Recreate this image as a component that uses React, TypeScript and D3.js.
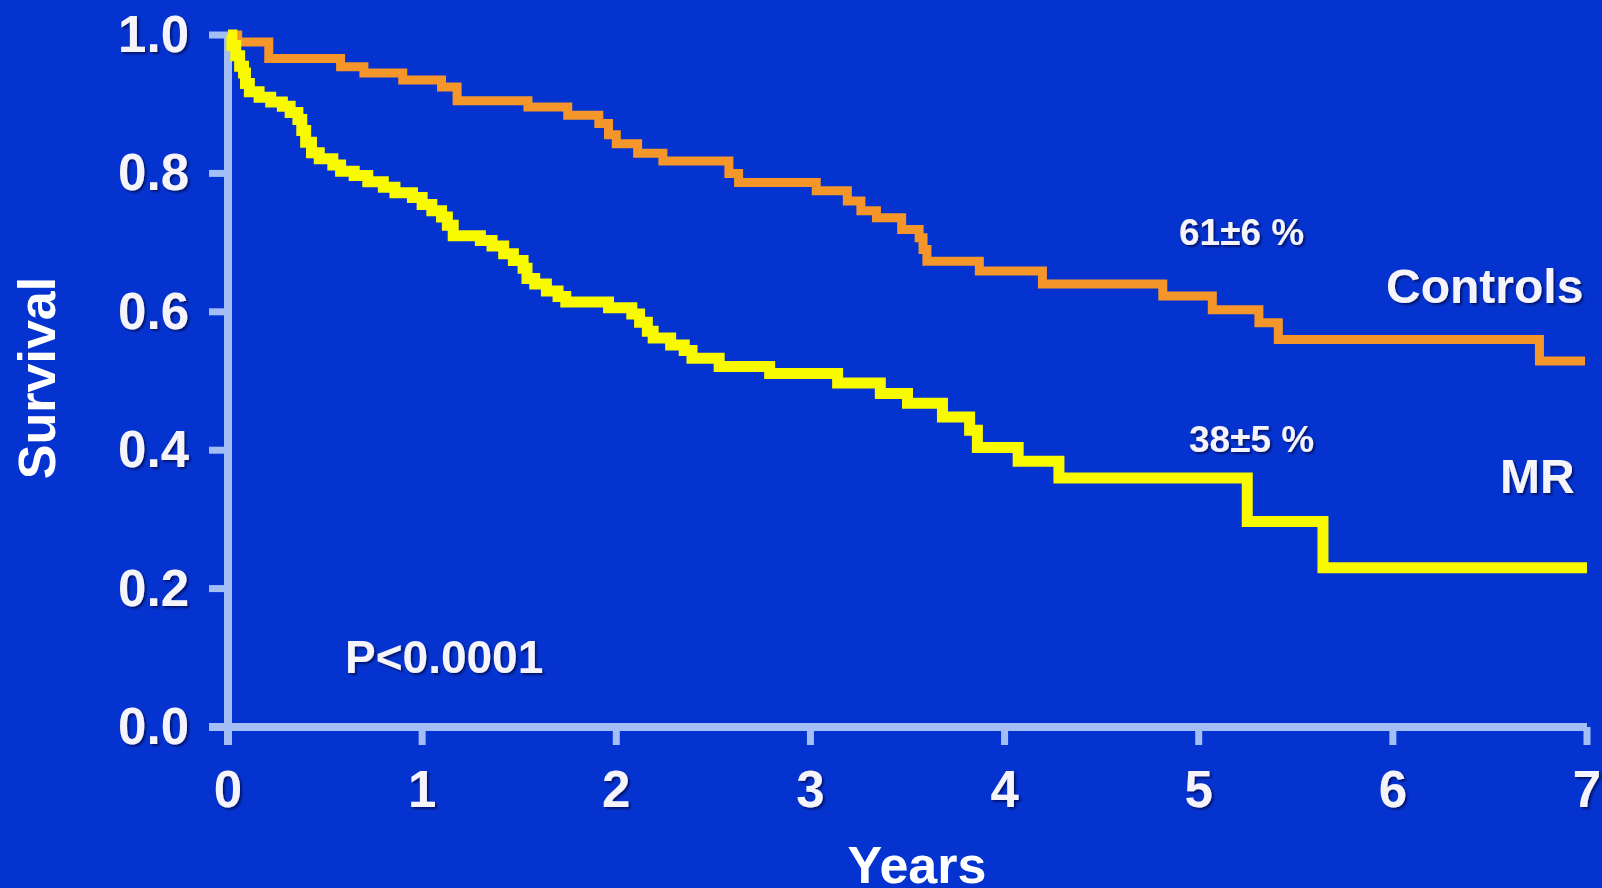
import React, { useEffect, useRef } from "react";
import * as d3 from "d3";

// axis ticks
const yearTicks = [0, 1, 2, 3, 4, 5, 6, 7];
const survivalTicks = [0, 0.2, 0.4, 0.6, 0.8, 1.0];

// Kaplan-Meier steps (time in years, survival)
const controlsTime = [
  0, 0.05, 0.21, 0.58, 0.7, 0.9, 1.1, 1.18, 1.545, 1.75, 1.91, 1.96, 2.0, 2.11,
  2.24, 2.58, 2.63, 3.03, 3.19, 3.26, 3.34, 3.47, 3.56, 3.58, 3.6, 3.87, 4.195,
  4.815, 5.07, 5.31, 5.41, 6.755, 6.99
];
const controlsSurv = [
  1.0, 0.99, 0.966, 0.954, 0.945, 0.935, 0.925, 0.905, 0.896, 0.884, 0.872,
  0.856, 0.843, 0.829, 0.818, 0.8, 0.787, 0.775, 0.76, 0.746, 0.736, 0.719,
  0.707, 0.69, 0.673, 0.659, 0.64, 0.623, 0.603, 0.584, 0.56, 0.529, 0.529
];

const mrTime = [
  0, 0.02, 0.04, 0.06, 0.08, 0.09, 0.11, 0.16, 0.22, 0.28, 0.32, 0.36, 0.38,
  0.4, 0.43, 0.47, 0.54, 0.58, 0.65, 0.72, 0.8, 0.86, 0.95, 1.0, 1.05, 1.1,
  1.13, 1.16, 1.3, 1.36, 1.42, 1.47, 1.52, 1.54, 1.58, 1.64, 1.7, 1.74, 1.96,
  2.08, 2.12, 2.16, 2.19, 2.28, 2.35, 2.39, 2.53, 2.79, 3.14, 3.36, 3.5, 3.68,
  3.82, 3.86, 4.07, 4.28, 5.25, 5.64, 7.0
];
const mrSurv = [
  1.0, 0.985, 0.97, 0.955, 0.945, 0.93, 0.918, 0.91, 0.903, 0.897, 0.888,
  0.878, 0.862, 0.845, 0.83, 0.821, 0.812, 0.803, 0.797, 0.788, 0.78, 0.772,
  0.765, 0.755, 0.746, 0.737, 0.725, 0.71, 0.703, 0.695, 0.684, 0.674, 0.663,
  0.648, 0.64, 0.63, 0.622, 0.614, 0.606, 0.597, 0.585, 0.572, 0.562, 0.552,
  0.544, 0.533, 0.521, 0.511, 0.497, 0.482, 0.468, 0.448, 0.429, 0.404, 0.384,
  0.36, 0.297, 0.23, 0.23
];

const W = 1602;
const H = 888;
const BG = "#0533cf";
const AXIS = "#a3bef5";
const ORANGE = "#f5962a";
const YELLOW = "#f9f900";
const FONT = "'Liberation Sans', Arial, sans-serif";

function drawChart(svgEl: SVGSVGElement) {
  const svg = d3.select(svgEl);
  svg.selectAll("*").remove();

  const x = d3.scaleLinear().domain([0, 7]).range([228, 1587]);
  const y = d3.scaleLinear().domain([0, 1]).range([727, 35]);

  svg.append("rect").attr("width", W).attr("height", H).attr("fill", BG);

  const defs = svg.append("defs");
  defs
    .append("filter")
    .attr("id", "shadow")
    .attr("x", "-10%")
    .attr("y", "-20%")
    .attr("width", "130%")
    .attr("height", "150%")
    .append("feDropShadow")
    .attr("dx", 2)
    .attr("dy", 2)
    .attr("stdDeviation", 1)
    .attr("flood-color", "#000030")
    .attr("flood-opacity", 0.6);

  // axes
  const axes = svg.append("g").attr("stroke", AXIS).attr("stroke-width", 8);
  axes
    .append("line")
    .attr("x1", x(0))
    .attr("x2", x(0))
    .attr("y1", y(1) - 3)
    .attr("y2", y(0) + 18);
  axes
    .append("line")
    .attr("x1", x(0) - 19)
    .attr("x2", x(7))
    .attr("y1", y(0))
    .attr("y2", y(0));
  axes
    .selectAll(".ytick")
    .data(survivalTicks)
    .enter()
    .append("line")
    .attr("x1", x(0) - 19)
    .attr("x2", x(0))
    .attr("y1", (d) => y(d))
    .attr("y2", (d) => y(d))
    .attr("stroke-width", 7);
  axes
    .selectAll(".xtick")
    .data(yearTicks)
    .enter()
    .append("line")
    .attr("x1", (d) => x(d))
    .attr("x2", (d) => x(d))
    .attr("y1", y(0))
    .attr("y2", y(0) + 18)
    .attr("stroke-width", 7);

  // tick labels
  const labels = svg
    .append("g")
    .attr("font-family", FONT)
    .attr("font-weight", "bold")
    .attr("fill", "#f4f4fa")
    .attr("filter", "url(#shadow)");
  labels
    .selectAll(".ylab")
    .data(survivalTicks)
    .enter()
    .append("text")
    .attr("x", 189)
    .attr("y", (d) => y(d) + 17)
    .attr("text-anchor", "end")
    .attr("font-size", 51)
    .text((d) => d.toFixed(1));
  labels
    .selectAll(".xlab")
    .data(yearTicks)
    .enter()
    .append("text")
    .attr("x", (d) => x(d))
    .attr("y", 807)
    .attr("text-anchor", "middle")
    .attr("font-size", 51)
    .text((d) => d);

  // curves
  const line = d3
    .line<[number, number]>()
    .x((d) => x(d[0]))
    .y((d) => y(d[1]))
    .curve(d3.curveStepAfter);

  const controls = controlsTime.map((t, i) => [t, controlsSurv[i]] as [number, number]);
  const mr = mrTime.map((t, i) => [t, mrSurv[i]] as [number, number]);

  svg
    .append("path")
    .attr("d", line(controls))
    .attr("fill", "none")
    .attr("stroke", ORANGE)
    .attr("stroke-width", 9)
    .attr("stroke-linejoin", "miter");
  svg
    .append("path")
    .attr("d", line(mr))
    .attr("fill", "none")
    .attr("stroke", YELLOW)
    .attr("stroke-width", 11)
    .attr("stroke-linejoin", "miter");

  // annotations
  const notes = [
    { text: "61±6 %", x: 1179, y: 245, size: 37 },
    { text: "Controls", x: 1386, y: 303, size: 48 },
    { text: "38±5 %", x: 1189, y: 452, size: 37 },
    { text: "MR", x: 1500, y: 493, size: 48 },
    { text: "P<0.0001", x: 345, y: 673, size: 46 }
  ];
  labels
    .selectAll(".note")
    .data(notes)
    .enter()
    .append("text")
    .attr("x", (d) => d.x)
    .attr("y", (d) => d.y)
    .attr("font-size", (d) => d.size)
    .text((d) => d.text);

  // axis titles
  svg
    .append("text")
    .attr("transform", "translate(55,378) rotate(-90)")
    .attr("text-anchor", "middle")
    .attr("font-family", FONT)
    .attr("font-weight", "bold")
    .attr("font-size", 52)
    .attr("fill", "#ffffff")
    .text("Survival");
  svg
    .append("text")
    .attr("x", 917)
    .attr("y", 883)
    .attr("text-anchor", "middle")
    .attr("font-family", FONT)
    .attr("font-weight", "bold")
    .attr("font-size", 52)
    .attr("fill", "#ffffff")
    .text("Years");
}

const App = () => {
  const svgEl = useRef<SVGSVGElement>(null);

  useEffect(() => {
    if (!svgEl.current) return;
    drawChart(svgEl.current);
  }, []);

  return (
    <svg
      ref={svgEl}
      width={W}
      height={H}
      style={{ position: "absolute", left: 0, top: 0, display: "block" }}
    />
  );
};

export default App;
